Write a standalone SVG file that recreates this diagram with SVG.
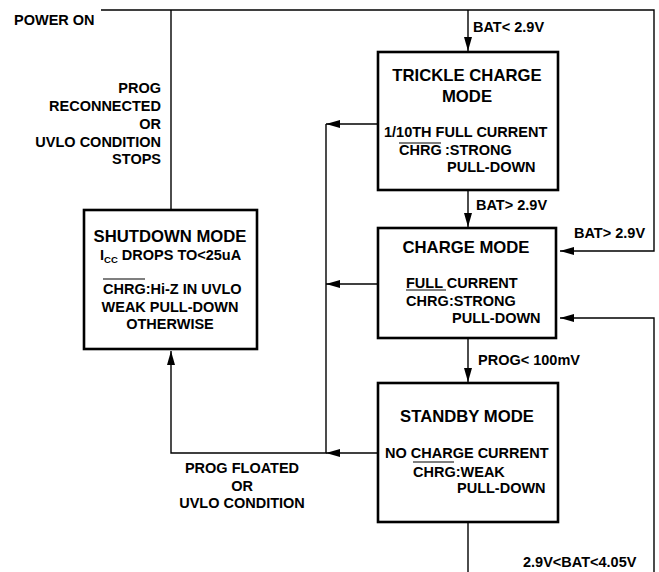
<svg xmlns="http://www.w3.org/2000/svg" width="659" height="572" viewBox="0 0 659 572">
<defs>
<style>
text{font-family:"Liberation Sans",Arial,sans-serif;font-weight:bold;fill:#000}
.t{font-size:16.7px}
.s{font-size:14.5px}
.m{text-anchor:middle}
.e{text-anchor:end}
.box{fill:#fff;stroke:#000;stroke-width:2.6}
.ln{fill:none;stroke:#000;stroke-width:1.4}
.ov{stroke:#000;stroke-width:1.2}
</style>
<marker id="ah" viewBox="0 0 14 8" refX="14" refY="4" markerWidth="14" markerHeight="8" markerUnits="userSpaceOnUse" orient="auto">
<path d="M0,0 L14,4 L0,8 z" fill="#000"/>
</marker>
</defs>
<rect width="659" height="572" fill="#fff"/>
<g id="connectors">
<path class="ln" d="M101,10 H654 V251 H560" marker-end="url(#ah)"/>
<path class="ln" d="M468,10 V51" marker-end="url(#ah)"/>
<path class="ln" d="M171,10 V210"/>
<path class="ln" d="M468,190 V227" marker-end="url(#ah)"/>
<path class="ln" d="M468,338 V382" marker-end="url(#ah)"/>
<path class="ln" d="M468,522 V572"/>
<path class="ln" d="M654,572 V318 H560" marker-end="url(#ah)"/>
<path class="ln" d="M378,124 H326" marker-end="url(#ah)"/>
<path class="ln" d="M378,284 H326" marker-end="url(#ah)"/>
<path class="ln" d="M378,453 H326" marker-end="url(#ah)"/>
<path class="ln" d="M326,124 V453 H171 V351" marker-end="url(#ah)"/>
<text class="s" x="14" y="25">POWER ON</text>
<text class="s" x="473" y="32">BAT&lt; 2.9V</text>
<text class="s" x="476" y="210">BAT&gt; 2.9V</text>
<text class="s" x="574" y="238">BAT&gt; 2.9V</text>
<text class="s" x="478" y="365">PROG&lt; 100mV</text>
<text class="s" x="523" y="567">2.9V&lt;BAT&lt;4.05V</text>
<text class="s e" x="161" y="93">PROG</text>
<text class="s e" x="161" y="111">RECONNECTED</text>
<text class="s e" x="161" y="129">OR</text>
<text class="s e" x="161" y="147">UVLO CONDITION</text>
<text class="s e" x="161" y="164">STOPS</text>
<text class="s m" x="242" y="473">PROG FLOATED</text>
<text class="s m" x="242" y="491">OR</text>
<text class="s m" x="242" y="508">UVLO CONDITION</text>
</g>
<g id="trickle">
<rect class="box" x="378" y="52" width="180" height="138"/>
<text class="t m" x="467" y="81">TRICKLE CHARGE</text>
<text class="t m" x="467" y="102">MODE</text>
<text class="s" x="384" y="137">1/10TH FULL CURRENT</text>
<line class="ov" x1="399" y1="143" x2="441" y2="143"/>
<text class="s" x="399" y="155">CHRG</text>
<text class="s" x="445" y="155">:STRONG</text>
<text class="s" x="447" y="172">PULL-DOWN</text>
</g>
<g id="shutdown">
<rect class="box" x="84" y="210" width="173" height="139"/>
<text class="t m" x="170" y="242">SHUTDOWN MODE</text>
<text class="s" x="100" y="260">I<tspan font-size="9.5" dy="3">CC</tspan><tspan dy="-3"> DROPS TO&lt;25uA</tspan></text>
<line class="ov" x1="103" y1="279" x2="145" y2="279"/>
<text class="s" x="103" y="294">CHRG<tspan>:Hi-Z IN UVLO</tspan></text>
<text class="s m" x="170" y="312">WEAK PULL-DOWN</text>
<text class="s m" x="170" y="329">OTHERWISE</text>
</g>
<g id="charge">
<rect class="box" x="378" y="228" width="178" height="110"/>
<text class="t m" x="466" y="253">CHARGE MODE</text>
<text class="s" x="406" y="288">FULL CURRENT</text>
<line class="ov" x1="406" y1="290" x2="446" y2="290"/>
<text class="s" x="406" y="306">CHRG</text>
<text class="s" x="449" y="306">:STRONG</text>
<text class="s" x="452" y="323">PULL-DOWN</text>
</g>
<g id="standby">
<rect class="box" x="378" y="383" width="180" height="139"/>
<text class="t m" x="467" y="422">STANDBY MODE</text>
<text class="s" x="385" y="458">NO CHARGE CURRENT</text>
<line class="ov" x1="413" y1="462" x2="454" y2="462"/>
<text class="s" x="413" y="477">CHRG<tspan>:WEAK</tspan></text>
<text class="s" x="457" y="493">PULL-DOWN</text>
</g>
</svg>
